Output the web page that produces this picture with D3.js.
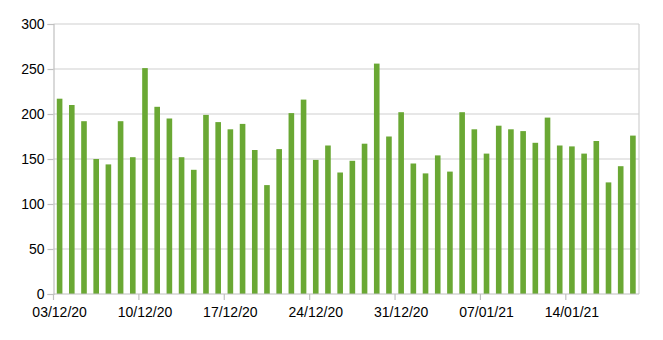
<!DOCTYPE html>
<html>
<head>
<meta charset="utf-8">
<script src="https://cdn.jsdelivr.net/npm/d3@7"></script>
<style>
  body { margin: 0; background: #fff; }
  svg { display: block; font-family: "Liberation Sans", Arial, sans-serif; }
</style>
</head>
<body>
<div id="chart"></div>
<script>
// daily values, 03/12/20 .. 19/01/21
const startDate = new Date(2020, 11, 3)
const values = [217, 210, 192, 150, 144, 192, 152, 251, 208, 195,
                152, 138, 199, 191, 183, 189, 160, 121, 161, 201,
                216, 149, 165, 135, 148, 167, 256, 175, 202, 145,
                134, 154, 136, 202, 183, 156, 187, 183, 181, 168,
                196, 165, 164, 156, 170, 124, 142, 176]
const yTicks = [0, 50, 100, 150, 200, 250, 300]
const xTickLabels = ["03/12/20", "10/12/20", "17/12/20", "24/12/20", "31/12/20", "07/01/21", "14/01/21"]

const fmt = d3.timeFormat("%d/%m/%y")
const days = values.map((v, i) => {
    let d = new Date(startDate)
    d.setDate(d.getDate() + i)
    return { label: fmt(d), value: v }
})

drawChart()

function drawChart() {
    let margin = { top: 24, right: 24, bottom: 46, left: 53.5 }
    let width = 663 - margin.left - margin.right
    let height = 340 - margin.top - margin.bottom

    let svg = d3.select("#chart")
        .append("svg")
        .attr("width", 663)
        .attr("height", 340)
        .append("g")
        .attr("transform", "translate(" + margin.left + "," + margin.top + ")")

    let x = d3.scaleBand()
        .range([0, width])
        .domain(days.map(d => d.label))
        .paddingInner(0.54)
        .paddingOuter(0.27)

    let y = d3.scaleLinear()
        .domain([0, 300])
        .range([height, 0])

    // gridlines
    svg.append("g")
        .selectAll("line")
        .data(yTicks.slice(1))
        .enter()
        .append("line")
        .attr("x1", 0)
        .attr("x2", width)
        .attr("y1", d => y(d))
        .attr("y2", d => y(d))
        .attr("stroke", "#d0d0d0")
        .attr("stroke-width", 1.2)

    // right frame
    svg.append("line")
        .attr("x1", width).attr("x2", width)
        .attr("y1", 0).attr("y2", height)
        .attr("stroke", "#d0d0d0")
        .attr("stroke-width", 1.2)

    // bars
    svg.selectAll("rect.bar")
        .data(days)
        .enter()
        .append("rect")
        .attr("class", "bar")
        .attr("x", d => x(d.label))
        .attr("y", d => y(d.value))
        .attr("width", x.bandwidth())
        .attr("height", d => height - y(d.value))
        .attr("fill", "#6aa834")

    // Y axis
    let yAxis = svg.append("g")
        .call(d3.axisLeft(y).tickValues(yTicks).tickSize(6).tickPadding(3))
    yAxis.select(".domain").attr("stroke", "#c0c0c0").attr("stroke-width", 1.2)
    yAxis.selectAll(".tick line").attr("stroke", "#c0c0c0").attr("stroke-width", 1.2)
    yAxis.selectAll("text").attr("font-size", 14).attr("fill", "#000")

    // X axis: ticks at band starts, labels under the band centre
    let step = x.step()
    let x0 = x(days[0].label) - x.paddingOuter() * step
    let tickPos = xTickLabels.map(l => x0 + days.findIndex(d => d.label === l) * step)
    let xAxis = svg.append("g").attr("transform", "translate(0," + height + ")")
    xAxis.append("line")
        .attr("x1", 0).attr("x2", width)
        .attr("stroke", "#c0c0c0").attr("stroke-width", 1.2)
    xAxis.selectAll("line.tick")
        .data(tickPos)
        .enter()
        .append("line")
        .attr("class", "tick")
        .attr("x1", d => d).attr("x2", d => d)
        .attr("y1", 0).attr("y2", 6)
        .attr("stroke", "#c0c0c0").attr("stroke-width", 1.2)
    xAxis.selectAll("text")
        .data(xTickLabels)
        .enter()
        .append("text")
        .attr("x", d => x(d) + x.bandwidth() / 2)
        .attr("y", 23)
        .attr("text-anchor", "middle")
        .attr("font-size", 14)
        .attr("fill", "#000")
        .text(d => d)
}
</script>
</body>
</html>
